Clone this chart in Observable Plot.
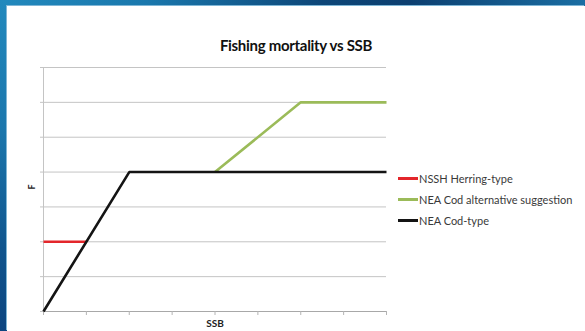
<!DOCTYPE html>
<html>
<head>
<meta charset="utf-8">
<script src="https://cdn.jsdelivr.net/npm/d3@7"></script>
<script src="https://cdn.jsdelivr.net/npm/@observablehq/plot@0.6"></script>
<style>
  html, body { margin: 0; padding: 0; width: 585px; height: 331px; overflow: hidden; background: #fff; }
  #slide { position: relative; width: 585px; height: 331px;
    background: linear-gradient(to right, #2289bd 0%, #1a78ad 25%, #0d4678 55%, #0c3f70 70%, #1a6ea3 100%); }
  #edge { position: absolute; left: 0; top: 0; width: 7px; height: 331px;
    background: linear-gradient(to bottom, #2289bd 0%, #1b76ac 40%, #10558e 75%, #0c4580 100%); }
  #card { position: absolute; left: 7px; top: 6px; width: 578px; height: 325px; background: #fff;
    box-shadow: -1px -1px 0 #7fb6d6; }
  #chart { position: absolute; left: 0; top: 0; }
  #title { position: absolute; left: 0; top: 30px; width: 578px; text-align: center;
    font: bold 15px Lato, "Open Sans", sans-serif; color: #111; letter-spacing: -0.3px; }
  #legend { position: absolute; left: 391px; top: 162px; font: 11px Lato, "Open Sans", sans-serif; color: #3a3a3a; }
  .item { display: flex; align-items: center; height: 21px; }
  .swatch { width: 20px; height: 2.5px; margin-right: 1px; }
</style>
</head>
<body>
<div id="slide">
  <div id="edge"></div>
  <div id="card">
    <div id="chart"></div>
    <div id="title">Fishing mortality vs SSB</div>
    <div id="legend"></div>
  </div>
</div>
<script>
// Harvest-control-rule sketches: fishing mortality (F) against spawning stock biomass (SSB)
const seriesNames  = ["NSSH Herring-type", "NEA Cod alternative suggestion", "NEA Cod-type"];
const seriesColors = ["#e3262b", "#9bbb59", "#141414"];

const herringSSB = [0, 1];
const herringF   = [2, 2];
const codAltSSB  = [4, 6, 8];
const codAltF    = [4, 6, 6];
const codSSB     = [0, 2, 8];
const codF       = [0, 4, 4];

const ssbTicks = [0, 1, 2, 3, 4, 5, 6, 7, 8];
const fTicks   = [0, 1, 2, 3, 4, 5, 6, 7];

const xLabel = "SSB";
const yLabel = "F";

const toRows = (xs, ys) => xs.map((x, i) => ({ssb: x, f: ys[i]}));
const seriesRows = [
  toRows(herringSSB, herringF),
  toRows(codAltSSB, codAltF),
  toRows(codSSB, codF)
];

const chart = Plot.plot({
  width: 578,
  height: 325,
  marginLeft: 36,
  marginRight: 199,
  marginTop: 61,
  marginBottom: 20,
  style: {background: "transparent", overflow: "visible"},
  x: {domain: [ssbTicks[0], ssbTicks[ssbTicks.length - 1]], axis: null},
  y: {domain: [fTicks[0], fTicks[fTicks.length - 1]], axis: null},
  marks: [
    // horizontal gridlines
    Plot.ruleY(fTicks.slice(1), {stroke: "#c4c4c4", strokeWidth: 1}),
    // left axis line and ticks
    Plot.ruleX([ssbTicks[0]], {stroke: "#c4c4c4", strokeWidth: 1}),
    Plot.axisY(fTicks, {tickSize: 3, tickFormat: () => "", label: null, stroke: "#c4c4c4"}),
    // bottom axis line and ticks
    Plot.ruleY([fTicks[0]], {stroke: "#a8a8a8", strokeWidth: 1}),
    Plot.axisX(ssbTicks, {tickSize: 4, tickFormat: () => "", label: null, stroke: "#b4b4b4"}),
    // axis titles
    Plot.text([xLabel], {frameAnchor: "bottom", dy: 12, lineAnchor: "middle", fontWeight: "bold",
      fontSize: 10, fontFamily: "Lato, sans-serif", fill: "#222"}),
    Plot.text([yLabel], {frameAnchor: "left", dx: -11, rotate: -90, fontWeight: "bold",
      fontSize: 9, fontFamily: "Lato, sans-serif", fill: "#222"}),
    // series, black drawn last so it sits on top
    ...seriesRows.map((rows, i) =>
      Plot.line(rows, {x: "ssb", y: "f", stroke: seriesColors[i], strokeWidth: 2.6,
        strokeLinejoin: "miter", strokeLinecap: "butt"}))
  ]
});
document.getElementById("chart").appendChild(chart);

const legend = document.getElementById("legend");
seriesNames.forEach((name, i) => {
  const item = document.createElement("div");
  item.className = "item";
  const sw = document.createElement("div");
  sw.className = "swatch";
  sw.style.background = seriesColors[i];
  const label = document.createElement("span");
  label.textContent = name;
  item.append(sw, label);
  legend.appendChild(item);
});
</script>
</body>
</html>
